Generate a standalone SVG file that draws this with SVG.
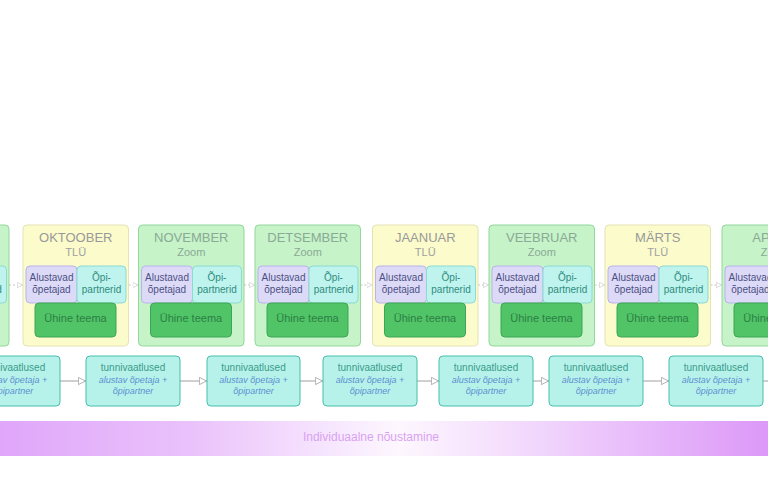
<svg xmlns="http://www.w3.org/2000/svg" width="768" height="489" viewBox="0 0 768 489">
<defs>
<style>
text{font-family:"Liberation Sans",Arial,sans-serif;text-anchor:middle}
.my{fill:#fbfbcc;stroke:#e3e3b6;stroke-width:1}
.mg{fill:#c6f3c8;stroke:#92d79c;stroke-width:1}
.al{fill:#dddaf8;stroke:#b9b2ec;stroke-width:1}
.op{fill:#bff3ee;stroke:#8bdbd2;stroke-width:1}
.uh{fill:#50c467;stroke:#3ca656;stroke-width:1}
.tv{fill:#b7f2ea;stroke:#45c0ac;stroke-width:1}
.tt{font-size:13px;fill:#999999}
.tg{font-size:13px;fill:#8aa996}
.st{font-size:11px;fill:#a0a0a0}
.sg{font-size:11px;fill:#8aa996}
.alt{font-size:10px;fill:#4b5083}
.opt{font-size:10px;fill:#2e8c7d}
.uht{font-size:11px;fill:#2d7f44}
.tvt{font-size:10px;fill:#3a9b8a}
.tvi{font-size:9px;fill:#5a8fd0;font-style:italic}
.mc{stroke:#c4c4c4;stroke-width:1;stroke-dasharray:2,2;fill:none}
.bc{stroke:#a0a0a0;stroke-width:1;fill:none}
</style>
<marker id="tri" viewBox="0 0 10 10" refX="10" refY="5" markerWidth="8" markerHeight="9" orient="auto" markerUnits="userSpaceOnUse">
<path d="M0.5,0.5 L9.5,5 L0.5,9.5 Z" fill="#fff" stroke="#a0a0a0"/>
</marker>
<marker id="tri2" viewBox="0 0 10 10" refX="10" refY="5" markerWidth="6" markerHeight="7" orient="auto" markerUnits="userSpaceOnUse">
<path d="M0.5,0.5 L9.5,5 L0.5,9.5 Z" fill="#fff" stroke="#c4c4c4"/>
</marker>
<linearGradient id="band" x1="0" y1="0" x2="768" y2="0" gradientUnits="userSpaceOnUse">
<stop offset="0" stop-color="#e0a6fa"/>
<stop offset="0.25" stop-color="#eac2fb"/>
<stop offset="0.45" stop-color="#f8eafe"/>
<stop offset="0.52" stop-color="#fdf7fe"/>
<stop offset="0.7" stop-color="#f1d6fc"/>
<stop offset="1" stop-color="#dc98f8"/>
</linearGradient>
</defs>
<rect width="768" height="489" fill="#ffffff"/>

<g id="connectors">
<path class="mc" d="M9,285 H23" marker-end="url(#tri2)"/>
<path class="mc" d="M128.5,285 H138.5" marker-end="url(#tri2)"/>
<path class="mc" d="M244,285 H255" marker-end="url(#tri2)"/>
<path class="mc" d="M360.5,285 H372.5" marker-end="url(#tri2)"/>
<path class="mc" d="M478,285 H489" marker-end="url(#tri2)"/>
<path class="mc" d="M594.5,285 H605" marker-end="url(#tri2)"/>
<path class="mc" d="M710.5,285 H722" marker-end="url(#tri2)"/>
<path class="bc" d="M60,381 H86" marker-end="url(#tri)"/>
<path class="bc" d="M180,381 H207" marker-end="url(#tri)"/>
<path class="bc" d="M300,381 H323" marker-end="url(#tri)"/>
<path class="bc" d="M417,381 H439" marker-end="url(#tri)"/>
<path class="bc" d="M533,381 H549" marker-end="url(#tri)"/>
<path class="bc" d="M643,381 H669" marker-end="url(#tri)"/>
<path class="bc" d="M763,381 H772"/>
</g>

<g id="month-prev" transform="translate(-96.5,225)">
<rect class="mg" x="0" y="0" width="105.5" height="121" rx="4"/>
<rect class="op" x="54" y="41" width="49" height="37" rx="4"/>
<text class="opt" x="78.5" y="56">Õpi-</text>
<text class="opt" x="78.5" y="68">partnerid</text>
</g>

<g id="month-oktoober" transform="translate(23,225)">
<rect class="my" x="0" y="0" width="105.5" height="121" rx="4"/>
<text class="tt" x="52.75" y="17">OKTOOBER</text>
<text class="st" x="52.75" y="31">TLÜ</text>
<rect class="al" x="3" y="41" width="51" height="37" rx="4"/>
<rect class="op" x="54" y="41" width="49" height="37" rx="4"/>
<text class="alt" x="28.5" y="56">Alustavad</text>
<text class="alt" x="28.5" y="68">õpetajad</text>
<text class="opt" x="78.5" y="56">Õpi-</text>
<text class="opt" x="78.5" y="68">partnerid</text>
<rect class="uh" x="12" y="78" width="81" height="34" rx="4"/>
<text class="uht" x="52.5" y="97">Ühine teema</text>
</g>

<g id="month-november" transform="translate(138.5,225)">
<rect class="mg" x="0" y="0" width="105.5" height="121" rx="4"/>
<text class="tg" x="52.75" y="17">NOVEMBER</text>
<text class="sg" x="52.75" y="31">Zoom</text>
<rect class="al" x="3" y="41" width="51" height="37" rx="4"/>
<rect class="op" x="54" y="41" width="49" height="37" rx="4"/>
<text class="alt" x="28.5" y="56">Alustavad</text>
<text class="alt" x="28.5" y="68">õpetajad</text>
<text class="opt" x="78.5" y="56">Õpi-</text>
<text class="opt" x="78.5" y="68">partnerid</text>
<rect class="uh" x="12" y="78" width="81" height="34" rx="4"/>
<text class="uht" x="52.5" y="97">Ühine teema</text>
</g>

<g id="month-detsember" transform="translate(255,225)">
<rect class="mg" x="0" y="0" width="105.5" height="121" rx="4"/>
<text class="tg" x="52.75" y="17">DETSEMBER</text>
<text class="sg" x="52.75" y="31">Zoom</text>
<rect class="al" x="3" y="41" width="51" height="37" rx="4"/>
<rect class="op" x="54" y="41" width="49" height="37" rx="4"/>
<text class="alt" x="28.5" y="56">Alustavad</text>
<text class="alt" x="28.5" y="68">õpetajad</text>
<text class="opt" x="78.5" y="56">Õpi-</text>
<text class="opt" x="78.5" y="68">partnerid</text>
<rect class="uh" x="12" y="78" width="81" height="34" rx="4"/>
<text class="uht" x="52.5" y="97">Ühine teema</text>
</g>

<g id="month-jaanuar" transform="translate(372.5,225)">
<rect class="my" x="0" y="0" width="105.5" height="121" rx="4"/>
<text class="tt" x="52.75" y="17">JAANUAR</text>
<text class="st" x="52.75" y="31">TLÜ</text>
<rect class="al" x="3" y="41" width="51" height="37" rx="4"/>
<rect class="op" x="54" y="41" width="49" height="37" rx="4"/>
<text class="alt" x="28.5" y="56">Alustavad</text>
<text class="alt" x="28.5" y="68">õpetajad</text>
<text class="opt" x="78.5" y="56">Õpi-</text>
<text class="opt" x="78.5" y="68">partnerid</text>
<rect class="uh" x="12" y="78" width="81" height="34" rx="4"/>
<text class="uht" x="52.5" y="97">Ühine teema</text>
</g>

<g id="month-veebruar" transform="translate(489,225)">
<rect class="mg" x="0" y="0" width="105.5" height="121" rx="4"/>
<text class="tg" x="52.75" y="17">VEEBRUAR</text>
<text class="sg" x="52.75" y="31">Zoom</text>
<rect class="al" x="3" y="41" width="51" height="37" rx="4"/>
<rect class="op" x="54" y="41" width="49" height="37" rx="4"/>
<text class="alt" x="28.5" y="56">Alustavad</text>
<text class="alt" x="28.5" y="68">õpetajad</text>
<text class="opt" x="78.5" y="56">Õpi-</text>
<text class="opt" x="78.5" y="68">partnerid</text>
<rect class="uh" x="12" y="78" width="81" height="34" rx="4"/>
<text class="uht" x="52.5" y="97">Ühine teema</text>
</g>

<g id="month-marts" transform="translate(605,225)">
<rect class="my" x="0" y="0" width="105.5" height="121" rx="4"/>
<text class="tt" x="52.75" y="17">MÄRTS</text>
<text class="st" x="52.75" y="31">TLÜ</text>
<rect class="al" x="3" y="41" width="51" height="37" rx="4"/>
<rect class="op" x="54" y="41" width="49" height="37" rx="4"/>
<text class="alt" x="28.5" y="56">Alustavad</text>
<text class="alt" x="28.5" y="68">õpetajad</text>
<text class="opt" x="78.5" y="56">Õpi-</text>
<text class="opt" x="78.5" y="68">partnerid</text>
<rect class="uh" x="12" y="78" width="81" height="34" rx="4"/>
<text class="uht" x="52.5" y="97">Ühine teema</text>
</g>

<g id="month-aprill" transform="translate(722,225)">
<rect class="mg" x="0" y="0" width="105.5" height="121" rx="4"/>
<text class="tg" x="52.75" y="17">APRILL</text>
<text class="sg" x="52.75" y="31">Zoom</text>
<rect class="al" x="3" y="41" width="51" height="37" rx="4"/>
<rect class="op" x="54" y="41" width="49" height="37" rx="4"/>
<text class="alt" x="28.5" y="56">Alustavad</text>
<text class="alt" x="28.5" y="68">õpetajad</text>
<text class="opt" x="78.5" y="56">Õpi-</text>
<text class="opt" x="78.5" y="68">partnerid</text>
<rect class="uh" x="12" y="78" width="81" height="34" rx="4"/>
<text class="uht" x="52.5" y="97">Ühine teema</text>
</g>

<g id="obs-1" transform="translate(-34,356)">
<rect class="tv" x="0" y="0" width="94" height="50" rx="4"/>
<text class="tvt" x="47" y="15">tunnivaatlused</text>
<text class="tvi" x="47" y="27">alustav õpetaja +</text>
<text class="tvi" x="47" y="38">õpipartner</text>
</g>
<g id="obs-2" transform="translate(86,356)">
<rect class="tv" x="0" y="0" width="94" height="50" rx="4"/>
<text class="tvt" x="47" y="15">tunnivaatlused</text>
<text class="tvi" x="47" y="27">alustav õpetaja +</text>
<text class="tvi" x="47" y="38">õpipartner</text>
</g>
<g id="obs-3" transform="translate(207,356)">
<rect class="tv" x="0" y="0" width="93" height="50" rx="4"/>
<text class="tvt" x="46.5" y="15">tunnivaatlused</text>
<text class="tvi" x="46.5" y="27">alustav õpetaja +</text>
<text class="tvi" x="46.5" y="38">õpipartner</text>
</g>
<g id="obs-4" transform="translate(323,356)">
<rect class="tv" x="0" y="0" width="94" height="50" rx="4"/>
<text class="tvt" x="47" y="15">tunnivaatlused</text>
<text class="tvi" x="47" y="27">alustav õpetaja +</text>
<text class="tvi" x="47" y="38">õpipartner</text>
</g>
<g id="obs-5" transform="translate(439,356)">
<rect class="tv" x="0" y="0" width="94" height="50" rx="4"/>
<text class="tvt" x="47" y="15">tunnivaatlused</text>
<text class="tvi" x="47" y="27">alustav õpetaja +</text>
<text class="tvi" x="47" y="38">õpipartner</text>
</g>
<g id="obs-6" transform="translate(549,356)">
<rect class="tv" x="0" y="0" width="94" height="50" rx="4"/>
<text class="tvt" x="47" y="15">tunnivaatlused</text>
<text class="tvi" x="47" y="27">alustav õpetaja +</text>
<text class="tvi" x="47" y="38">õpipartner</text>
</g>
<g id="obs-7" transform="translate(669,356)">
<rect class="tv" x="0" y="0" width="94" height="50" rx="4"/>
<text class="tvt" x="47" y="15">tunnivaatlused</text>
<text class="tvi" x="47" y="27">alustav õpetaja +</text>
<text class="tvi" x="47" y="38">õpipartner</text>
</g>

<g id="counselling">
<rect x="0" y="421" width="768" height="35" fill="url(#band)"/>
<text x="371" y="441" style="font-size:12px;fill:#d9a2f1">Individuaalne nõustamine</text>
</g>
</svg>
